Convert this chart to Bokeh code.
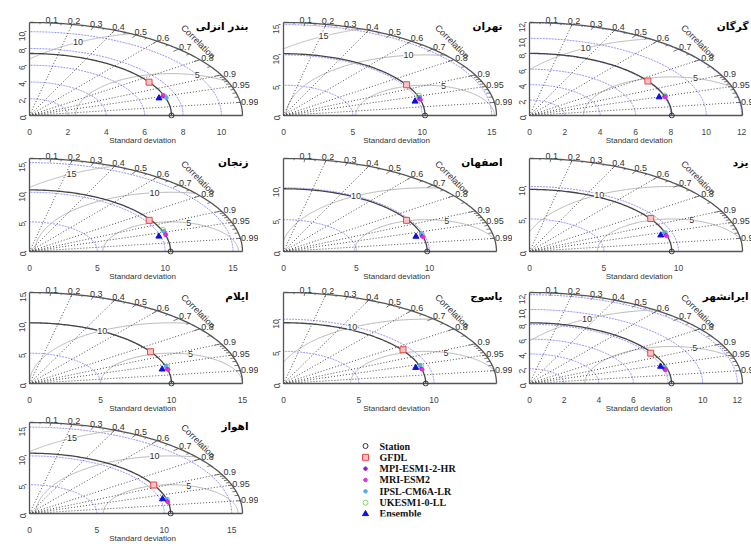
import numpy as np
from bokeh.plotting import figure
from bokeh.layouts import row, column
from bokeh.models import FixedTicker, Range1d
from bokeh.core.properties import value
from bokeh.embed import file_html
from bokeh.resources import INLINE

# ---------------- data ----------------
stations = ["بندر انزلی", "تهران", "گرگان", "زنجان", "اصفهان", "یزد",
            "ایلام", "یاسوج", "ایرانشهر", "اهواز"]
max_sd = [11.1, 15.35, 12.05, 15.7, 14.6, 14.3, 15.0, 14.15, 12.3, 15.8]
ref_sd = [7.4, 10.2, 8.05, 10.4, 9.85, 9.55, 10.0, 9.45, 8.2, 10.47]
sd_step = [2, 5, 2, 5, 5, 5, 5, 5, 2, 5]
rms_levels = [[5, 10], [5, 10, 15], [5, 10], [5, 10, 15], [5, 10],
              [5, 10], [5, 10], [5, 10], [5, 10], [5, 10, 15]]

gfdl_sd = [7.39, 10.22, 8.05, 10.27, 9.75, 9.60, 10.00, 9.52, 8.11, 10.46]
gfdl_r = [0.843, 0.868, 0.832, 0.859, 0.865, 0.848, 0.852, 0.834, 0.863, 0.881]
mpi_sd = [7.33, 10.18, 8.02, 10.42, 9.80, 9.50, 10.00, 9.45, 8.04, 10.44]
mpi_r = [0.948, 0.962, 0.953, 0.963, 0.970, 0.965, 0.972, 0.970, 0.972, 0.980]
mri_sd = [7.38, 10.22, 8.06, 10.45, 9.85, 9.52, 10.03, 9.48, 8.06, 10.46]
mri_r = [0.945, 0.967, 0.955, 0.960, 0.973, 0.968, 0.974, 0.973, 0.975, 0.982]
ipsl_sd = [7.45, 10.28, 8.10, 10.48, 9.83, 9.51, 10.05, 9.51, 8.05, 10.46]
ipsl_r = [0.958, 0.955, 0.950, 0.945, 0.959, 0.952, 0.958, 0.954, 0.964, 0.971]
ukesm_sd = [7.40, 10.30, 8.08, 10.50, 9.86, 9.55, 10.07, 9.53, 8.08, 10.48]
ukesm_r = [0.952, 0.948, 0.947, 0.938, 0.962, 0.955, 0.962, 0.958, 0.966, 0.974]
ens_sd = [7.06, 9.76, 7.71, 9.87, 9.38, 9.16, 9.63, 9.12, 7.91, 10.18]
ens_r = [0.956, 0.971, 0.951, 0.966, 0.968, 0.962, 0.970, 0.963, 0.957, 0.969]

corr_label_values = [0.1, 0.2, 0.3, 0.4, 0.5, 0.6, 0.7, 0.8, 0.9, 0.95, 0.99]
corr_line_values = [0.2, 0.4, 0.6, 0.8, 0.9, 0.95, 0.99]
big_ticks = [0.1, 0.2, 0.3, 0.4, 0.5, 0.6, 0.7, 0.8, 0.9]
med_ticks = [0.05, 0.15, 0.25, 0.35, 0.45, 0.55, 0.65, 0.75, 0.85, 0.95]
small_ticks = [0.91, 0.92, 0.93, 0.94, 0.96, 0.97, 0.98, 0.99]

legend_names = ["Station", "GFDL", "MPI-ESM1-2-HR", "MRI-ESM2", "IPSL-CM6A-LR",
                "UKESM1-0-LL", "Ensemble"]

# ---------------- styles ----------------
model_data = [
    ("UKESM1-0-LL", ukesm_sd, ukesm_r, dict(marker="circle", size=5, fill_color=None, line_color="#8fd070", line_width=1)),
    ("IPSL-CM6A-LR", ipsl_sd, ipsl_r, dict(marker="circle", size=3.5, fill_color="#55aaee", line_color="#55aaee")),
    ("MPI-ESM1-2-HR", mpi_sd, mpi_r, dict(marker="circle", size=3.5, fill_color="#8a1ed0", line_color="#8a1ed0")),
    ("MRI-ESM2", mri_sd, mri_r, dict(marker="circle", size=3.5, fill_color="#e030d0", line_color="#e030d0")),
    ("GFDL", gfdl_sd, gfdl_r, dict(marker="square", size=6, fill_color="#f9c4c4", line_color="#e84848", line_width=1)),
    ("Ensemble", ens_sd, ens_r, dict(marker="triangle", size=6, fill_color="#1010dd", line_color="#1010dd")),
]
station_style = dict(marker="circle", size=5, fill_color=None, line_color="#333333", line_width=1)

col_w = [258, 254, 239]
col_left = [26, 22, 14]
row_h = [148, 136, 132, 130]
row_bottom = [30, 30, 30, 30]
row_vspan = [93, 93, 91, 91]
HSPAN = 213.0
FONT = "Liberation Sans"


def make_panel(i):
    r, c = divmod(i, 3)
    M = max_sd[i]
    S = ref_sd[i]
    vs = row_vspan[r]
    fw, bl = col_w[c], col_left[c]
    fh, bb = row_h[r], row_bottom[r]
    frame_w = fw - bl
    frame_h = fh - bb
    p = figure(width=fw, height=fh, output_backend="svg", toolbar_location=None,
               x_range=Range1d(-3 / HSPAN * M, (frame_w - 3) / HSPAN * M),
               y_range=Range1d(-3 / vs * M, (frame_h - 3) / vs * M),
               min_border_left=bl, min_border_right=0, min_border_top=0,
               min_border_bottom=bb)
    p.grid.visible = False
    p.outline_line_color = None
    ticks = list(np.arange(0, M + 1e-9, sd_step[i]))

    # axes
    p.xaxis.ticker = FixedTicker(ticks=ticks)
    p.yaxis.ticker = FixedTicker(ticks=ticks)
    for ax in (p.xaxis, p.yaxis):
        ax.axis_line_color = None
        ax.minor_tick_line_color = None
        ax.major_label_text_font = FONT
        ax.major_label_text_font_size = "8.5px"
        ax.major_label_text_color = "#444444"
    p.xaxis.major_tick_line_color = None
    p.xaxis.major_label_standoff = 4
    p.xaxis.axis_label = "Standard deviation"
    p.xaxis.axis_label_text_font = FONT
    p.xaxis.axis_label_text_font_size = "8px"
    p.xaxis.axis_label_text_font_style = "normal"
    p.xaxis.axis_label_text_color = "#333333"
    p.xaxis.axis_label_standoff = -2
    p.yaxis.major_tick_line_color = "#666666"
    p.yaxis.major_tick_in = 0
    p.yaxis.major_tick_out = 2
    p.yaxis.major_label_standoff = 2
    p.yaxis.major_label_orientation = np.pi / 2

    t90 = np.linspace(0, np.pi / 2, 120)
    # blue standard deviation arcs
    sx, sy = [], []
    for t in ticks[1:]:
        sx.append(list(t * np.cos(t90)))
        sy.append(list(t * np.sin(t90)))
    p.multi_line(xs=sx, ys=sy, line_color="#6f6fff", line_alpha=0.75,
                 line_width=1, line_dash="2 1")

    # RMS (centred) contours
    gx, gy, lx, ly, lt = [], [], [], [], []
    levels = rms_levels[i]
    lab_ang = np.linspace(1.30, 2.08, len(levels)) if len(levels) > 1 else [1.3]
    for g, la in zip(levels, lab_ang):
        ta = np.arccos(np.clip((M * M - S * S - g * g) / (2 * S * g), -1, 1))
        tb = np.arccos(np.clip(-S / g, -1, 1))
        tt = np.linspace(ta, tb, 150)
        gx.append(list(S + g * np.cos(tt)))
        gy.append(list(g * np.sin(tt)))
        lx.append(S + g * np.cos(la))
        ly.append(g * np.sin(la))
        lt.append(str(g))
    p.multi_line(xs=gx, ys=gy, line_color="#b8b8b8", line_width=1)

    # correlation rays
    cx = [[0, M * cv] for cv in corr_line_values]
    cy = [[0, M * np.sqrt(1 - cv * cv)] for cv in corr_line_values]
    p.multi_line(xs=cx, ys=cy, line_color="#222222", line_width=0.8, line_dash="1 2")

    # reference (station) arc and outer arc
    p.line(x=S * np.cos(t90), y=S * np.sin(t90), line_color="#444444", line_width=1.3)
    p.line(x=M * np.cos(t90), y=M * np.sin(t90), line_color="#555555", line_width=1.3)
    p.multi_line(xs=[[0, M], [0, 0]], ys=[[0, 0], [0, M]], line_color="#555555", line_width=1.3)

    # ticks on the correlation arc
    tx, ty = [], []
    for vals, ln in ((big_ticks, 0.965), (med_ticks, 0.982), (small_ticks, 0.982)):
        for v in vals:
            a = np.arccos(v)
            tx.append([M * np.cos(a), ln * M * np.cos(a)])
            ty.append([M * np.sin(a), ln * M * np.sin(a)])
    p.multi_line(xs=tx, ys=ty, line_color="#555555", line_width=0.8)

    # RMS labels
    p.text(x=lx, y=ly, text=lt, text_font=value(FONT), text_font_size="9px",
           text_color="#333333", text_align="center", text_baseline="middle",
           background_fill_color="white")

    # correlation labels
    ang = np.arccos(np.array(corr_label_values))
    p.text(x=list(1.045 * M * np.cos(ang)), y=list(1.035 * M * np.sin(ang)),
           text=[f"{v:g}" for v in corr_label_values], text_font=value(FONT),
           text_font_size="9px", text_color="#333333", text_align="center",
           text_baseline="middle")
    p.text(x=[1.12 * M * np.cos(np.pi / 4)], y=[1.12 * M * np.sin(np.pi / 4)],
           text=["Correlation"], angle=-np.pi / 4, text_font=value(FONT),
           text_font_size="9px", text_color="#333333", text_align="center",
           text_baseline="middle")

    # models
    for name, sds, rs, st in model_data:
        sd = sds[i]
        rr = rs[i]
        p.scatter(x=[sd * rr], y=[sd * np.sqrt(1 - rr * rr)], **st)
    p.scatter(x=[S], y=[0], **station_style)

    # station title
    p.text(x=[219 / HSPAN * M], y=[0.957 * M], text=[stations[i]],
           text_font=value("DejaVu Sans"), text_font_style="bold",
           text_font_size="10.5px", text_color="black", text_align="right",
           text_baseline="middle")
    return p


panels = [make_panel(i) for i in range(len(stations))]

# legend figure (pixel-like coordinates inside its frame, y downwards)
lw = col_w[1] + col_w[2]
lh = row_h[3]
lframe = lh - row_bottom[3]   # frame is aligned with the neighbouring panel
lg = figure(width=lw, height=lh, output_backend="svg", toolbar_location=None,
            x_range=Range1d(0, lw), y_range=Range1d(lframe, 0),
            min_border=0, min_border_bottom=row_bottom[3],
            x_axis_location=None, y_axis_location=None)
lg.grid.visible = False
lg.outline_line_color = None
styles = {"Station": station_style}
for name, _, _, st in model_data:
    styles[name] = st
leg_x0, leg_y0, leg_dy = 107, 29.5, 11.33
leg_y = [leg_y0 + k * leg_dy for k in range(len(legend_names))]
for k, name in enumerate(legend_names):
    lg.scatter(x=[leg_x0], y=[leg_y[k]], **styles[name])
lg.text(x=[leg_x0 + 14] * len(legend_names), y=leg_y, text=legend_names,
        text_font=value("Liberation Serif"), text_font_style="bold",
        text_font_size="10px", text_color="#111111", text_baseline="middle",
        text_align="left")

layout = column(row(panels[0], panels[1], panels[2]),
                row(panels[3], panels[4], panels[5]),
                row(panels[6], panels[7], panels[8]),
                row(panels[9], lg))

open("out.html", "w").write(file_html(layout, INLINE))
